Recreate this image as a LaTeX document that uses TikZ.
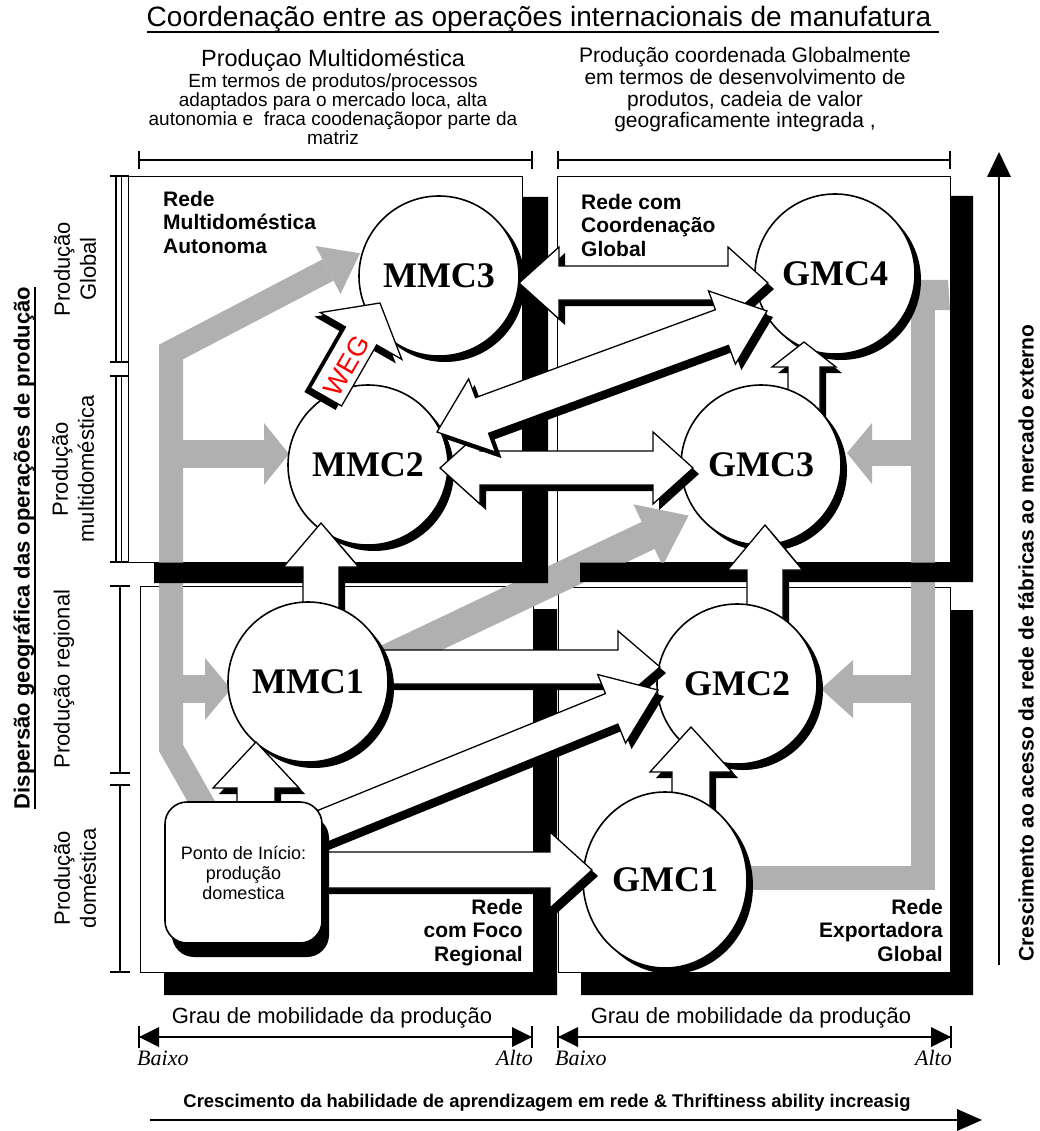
\documentclass[tikz,border=0pt]{standalone}
\usepackage{fontspec}
\setmainfont{Liberation Sans}
\newfontfamily\tnr{Liberation Serif}
\usetikzlibrary{calc,shadows,shapes.geometric}
\definecolor{gband}{HTML}{B0B0B0}
\newcommand{\fsz}[2]{\fontsize{#1}{#2}\selectfont}
\def\BAsx{6}\def\BAsy{-6}
\newcommand{\BAsetup}[2]{%
  \path let \p1=(#1), \p2=(#2),
    \n1={atan2((\y2)-(\y1),(\x2)-(\x1))},
    \n2={veclen((\x2)-(\x1),(\y2)-(\y1))} in
    \pgfextra{%
      \pgfmathsetmacro{\BAangT}{\n1}\xdef\BAang{\BAangT}%
      \pgfmathsetmacro{\BAlenT}{\n2}\xdef\BAlen{\BAlenT}%
      \pgfmathsetmacro{\BAxT}{\x1}\xdef\BAx{\BAxT}%
      \pgfmathsetmacro{\BAyT}{\y1}\xdef\BAy{\BAyT}%
    };%
}
% single block arrow: start, end, shaft half width, head half width, head length
\newcommand{\singlearrow}[5]{%
  \BAsetup{#1}{#2}%
  \pgfmathsetmacro{\BAb}{\BAlen-#5}%
  \begin{scope}[shift={(\BAsx pt,\BAsy pt)}]
    \begin{scope}[shift={(\BAx pt,\BAy pt)},rotate=\BAang]
      \fill[black] (0pt,#3pt) -- (\BAb pt,#3pt) -- (\BAb pt,#4pt) -- (\BAlen pt,0pt) -- (\BAb pt,-#4pt) -- (\BAb pt,-#3pt) -- (0pt,-#3pt) -- cycle;
    \end{scope}
  \end{scope}
  \begin{scope}[shift={(\BAx pt,\BAy pt)},rotate=\BAang]
    \filldraw[blockarrow] (0pt,#3pt) -- (\BAb pt,#3pt) -- (\BAb pt,#4pt) -- (\BAlen pt,0pt) -- (\BAb pt,-#4pt) -- (\BAb pt,-#3pt) -- (0pt,-#3pt) -- cycle;
  \end{scope}
}
% double block arrow
\newcommand{\doublearrow}[5]{%
  \BAsetup{#1}{#2}%
  \pgfmathsetmacro{\BAb}{\BAlen-#5}%
  \begin{scope}[shift={(\BAsx pt,\BAsy pt)}]
    \begin{scope}[shift={(\BAx pt,\BAy pt)},rotate=\BAang]
      \fill[black] (0pt,0pt) -- (#5pt,#4pt) -- (#5pt,#3pt) -- (\BAb pt,#3pt) -- (\BAb pt,#4pt) -- (\BAlen pt,0pt) -- (\BAb pt,-#4pt) -- (\BAb pt,-#3pt) -- (#5pt,-#3pt) -- (#5pt,-#4pt) -- cycle;
    \end{scope}
  \end{scope}
  \begin{scope}[shift={(\BAx pt,\BAy pt)},rotate=\BAang]
    \filldraw[blockarrow] (0pt,0pt) -- (#5pt,#4pt) -- (#5pt,#3pt) -- (\BAb pt,#3pt) -- (\BAb pt,#4pt) -- (\BAlen pt,0pt) -- (\BAb pt,-#4pt) -- (\BAb pt,-#3pt) -- (#5pt,-#3pt) -- (#5pt,-#4pt) -- cycle;
  \end{scope}
}
\begin{document}
\begin{tikzpicture}[x=1pt,y=-1pt,
  quad/.style={draw, fill=white, line width=1.2pt, inner sep=0pt, anchor=north west},
  circ/.style={circle, draw, fill=white, line width=1.6pt, inner sep=0pt, minimum size=160pt,
     font=\tnr\bfseries\fsz{36}{36},
     drop shadow={shadow xshift=6pt, shadow yshift=-6pt, fill=black, opacity=1}},
  ponto/.style={rectangle, rounded corners=22pt, draw, fill=white, line width=1.6pt,
     minimum width=157pt, minimum height=141pt, align=center, inner sep=0pt, font=\fsz{18}{20},
     drop shadow={shadow xshift=7pt, shadow yshift=-14pt, fill=black, opacity=1}},
  blockarrow/.style={fill=white, draw=black, line width=1.3pt, line join=miter},
  rede/.style={font=\bfseries\fsz{21}{23.5}, inner sep=0pt},
  sidelbl/.style={rotate=90, align=center, font=\fsz{22}{26}, inner sep=0pt},
  brk/.style={line width=1.4pt},
  lbrk/.style={line width=2.2pt},
  dbrk/.style={line width=1.1pt},
  axisline/.style={line width=1.6pt},
  lohi/.style={font=\tnr\itshape\fsz{22}{24}, inner sep=0pt},
  grau/.style={font=\fsz{22}{24}, inner sep=0pt}]
\fill[white] (0,0) rectangle (1039,1131);
\useasboundingbox (0,0) rectangle (1039,1131);

% ---------- headers ----------
\node[font=\fsz{28}{30}, inner sep=0pt, anchor=base] (title) at (539,27) {Coordenação entre as operações internacionais de manufatura};
\draw[line width=1.6pt] ([yshift=-5pt]title.base west) -- ([yshift=-5pt,xshift=8pt]title.base east);

\node[font=\fsz{23.5}{25}, inner sep=0pt] (lh1) at (333,60) {Produçao Multidoméstica};
\node[font=\fsz{19}{19}, align=center, inner sep=0pt] (lh2) at (333,109) {Em termos de produtos/processos\\adaptados para o mercado loca, alta\\autonomia e~ fraca coodenaçãopor parte da\\matriz};
\node[font=\fsz{21}{21.7}, align=center, inner sep=0pt] (rh) at (745,90) {Produção coordenada Globalmente\\em termos de desenvolvimento de\\produtos, cadeia de valor\\geograficamente integrada ,};

% top brackets
\coordinate (tb1l) at (139,160); \coordinate (tb1r) at (532,160);
\coordinate (tb2l) at (558,160); \coordinate (tb2r) at (950,160);
\draw[brk] (tb1l) -- (tb1r);
\draw[brk] ($(tb1l)+(0,-9)$) -- ($(tb1l)+(0,9)$);
\draw[brk] ($(tb1r)+(0,-9)$) -- ($(tb1r)+(0,9)$);
\draw[brk] (tb2l) -- (tb2r);
\draw[brk] ($(tb2l)+(0,-9)$) -- ($(tb2l)+(0,9)$);
\draw[brk] ($(tb2r)+(0,-9)$) -- ($(tb2r)+(0,9)$);

% left brackets
\draw[dbrk] (116,176) -- (116,362); \draw[dbrk] (121.5,176) -- (121.5,362);
\draw[brk] (110,176) -- (129,176); \draw[brk] (110,362) -- (129,362);
\draw[dbrk] (116,376) -- (116,562); \draw[dbrk] (121.5,376) -- (121.5,562);
\draw[brk] (110,376) -- (129,376); \draw[brk] (110,562) -- (129,562);
\draw[lbrk] (120,586) -- (120,773);
\draw[brk] (110,586) -- (130,586); \draw[brk] (110,773) -- (130,773);
\draw[lbrk] (120,785) -- (120,972);
\draw[brk] (110,785) -- (130,785); \draw[brk] (110,972) -- (130,972);

\node[sidelbl] (lg) at (75,269) {Produção\\Global};
\node[sidelbl] (lm) at (73,469) {Produção\\multidoméstica};
\node[sidelbl] (lr) at (64,679) {Produção regional};
\node[sidelbl] (ld) at (75,878) {Produção\\doméstica};
\node[rotate=90, font=\bfseries\fsz{22}{24}, inner sep=0pt] (disp) at (24,548) {Dispersão geográfica das operações de produção};
\draw[line width=1.6pt] ([xshift=5pt]disp.base west) -- ([xshift=5pt]disp.base east);

% ---------- quadrant boxes ----------
\node[quad, minimum width=394pt, minimum height=386pt] (TL) at (128,176) {};
\node[quad, minimum width=393pt, minimum height=386pt] (TR) at (557,176) {};
\node[quad, minimum width=393pt, minimum height=386pt] (BL) at (140,586) {};
\node[quad, minimum width=392pt, minimum height=385pt] (BR) at (558,587) {};

% ---------- gray arrows ----------
\draw[gband, line width=24pt, line join=miter] (205,808) -- (171,748) -- (171,352) -- (328,270);
\fill[gband] (315.5,246) -- (360,253.3) -- (340.5,294) -- cycle;
\fill[gband] (171,440) rectangle (265,468);
\fill[gband] (264,423) -- (289,454) -- (264,485) -- cycle;
\fill[gband] (171,675) rectangle (206,703);
\fill[gband] (205,658) -- (231,689) -- (205,720) -- cycle;

\draw[gband, line width=24pt, line join=miter] (740,878) -- (923,878) -- (923,306);
\fill[gband] (896,310) -- (911,280) -- (948,280) -- (950,310) -- cycle;
\fill[gband] (871,440) rectangle (923,466);
\fill[gband] (872,423) -- (847,453) -- (872,484) -- cycle;
\fill[gband] (852,675) rectangle (923,703);
\fill[gband] (853,660) -- (821,689) -- (853,718) -- cycle;

\draw[gband, line width=30pt] (375,665) -- (649,535);
\fill[gband] (662.6,565.7) -- (688.6,515.6) -- (633.4,504.3) -- cycle;

% ---------- quadrant shadows ----------
\fill[black] (522.6,197) -- (548,197) -- (548,583) -- (154,583) -- (154,562.6) -- (522.6,562.6) -- cycle;
\fill[black] (950.6,196) -- (973,196) -- (973,582) -- (580,582) -- (580,562.6) -- (950.6,562.6) -- cycle;
\fill[black] (533.6,609) -- (557,609) -- (557,995) -- (164,995) -- (164,972.6) -- (533.6,972.6) -- cycle;
\fill[black] (950.6,610) -- (973,610) -- (973,995) -- (581,995) -- (581,972.6) -- (950.6,972.6) -- cycle;

% ---------- quadrant labels ----------
\node[rede, align=left, anchor=north west] (rTL) at (163,191) {Rede\\Multidoméstica\\Autonoma};
\node[rede, align=left, anchor=north west] (rTR) at (581,194) {Rede com\\Coordenação\\Global};
\node[rede, align=right, anchor=north east] (rBL) at (523,899) {Rede\\com Foco\\Regional};
\node[rede, align=right, anchor=north east] (rBR) at (943,899) {Rede\\Exportadora\\Global};

% ---------- arrow end coordinates ----------
\coordinate (a1s) at (519,283);  \coordinate (a1e) at (768,283);
\coordinate (a2s) at (440,468);  \coordinate (a2e) at (693,468);
\coordinate (a3s) at (437,432);  \coordinate (a3e) at (767,311);
\coordinate (a4s) at (300,667);  \coordinate (a4e) at (660,667);
\coordinate (a5s) at (306,833);  \coordinate (a5e) at (658,690);
\coordinate (a6s) at (300,870);  \coordinate (a6e) at (592,870);
\coordinate (a7s) at (256,830);  \coordinate (a7e) at (256,742);
\coordinate (a8s) at (321,640);  \coordinate (a8e) at (321,523);
\coordinate (a9s) at (765,640);  \coordinate (a9e) at (765,525);
\coordinate (a10s) at (691,840); \coordinate (a10e) at (691,727);
\coordinate (a11s) at (804,420); \coordinate (a11e) at (804,342);
\coordinate (wegs) at (326,397); \coordinate (wege) at (380,303);

% ---------- circles and block arrows ----------
\node[circ] (GMC4) at (835,274) {GMC4};
\node[circ] (MMC3) at (439,276) {MMC3};
\singlearrow{a11s}{a11e}{16}{32}{25}
\node[circ] (GMC3) at (761,465) {GMC3};
\node[circ] (MMC2) at (368,465) {MMC2};
\def\BAsx{-6}\def\BAsy{-4}
\singlearrow{wegs}{wege}{18}{47}{38}
\def\BAsx{6}\def\BAsy{-6}
\node[rotate=60, text=red, font=\fsz{27}{27}, inner sep=0pt] (weg) at (347,366) {WEG};
\doublearrow{a1s}{a1e}{17}{36}{40}
\doublearrow{a2s}{a2e}{17}{36}{40}
\doublearrow{a3s}{a3e}{19}{39}{48}
\singlearrow{a9s}{a9e}{18}{37.5}{45}
\singlearrow{a8s}{a8e}{18}{37.5}{44}
\node[circ] (GMC2) at (737,684) {GMC2};
\singlearrow{a4s}{a4e}{17}{36}{42}
\singlearrow{a10s}{a10e}{19}{41}{45}
\singlearrow{a5s}{a5e}{16.5}{37}{50}
\node[circ] (MMC1) at (308,682) {MMC1};
\singlearrow{a7s}{a7e}{19}{43}{46}
\node[circ, ellipse, minimum width=164pt, minimum height=176pt] (GMC1) at (665,880) {GMC1};
\singlearrow{a6s}{a6e}{18}{38}{42}
\node[ponto] (ponto) at (243.5,872.5) {Ponto de Início:\\produção\\domestica};

% ---------- bottom axes ----------
\node[grau] (g1) at (332,1018) {Grau de mobilidade da produção};
\node[grau] (g2) at (751,1018) {Grau de mobilidade da produção};
\coordinate (bl1) at (139,1037); \coordinate (br1) at (532,1037);
\coordinate (bl2) at (558,1037); \coordinate (br2) at (951,1037);
\draw[axisline] (bl1) -- (br1);
\draw[axisline] (bl2) -- (br2);
\fill (bl1) -- ++(20,-10) -- ++(0,20) -- cycle;
\fill (br1) -- ++(-20,-10) -- ++(0,20) -- cycle;
\fill (bl2) -- ++(20,-10) -- ++(0,20) -- cycle;
\fill (br2) -- ++(-20,-10) -- ++(0,20) -- cycle;
\draw[lbrk] ($(bl1)+(0,-11)$) -- ($(bl1)+(0,11)$);
\draw[lbrk] ($(br1)+(0,-11)$) -- ($(br1)+(0,11)$);
\draw[lbrk] ($(bl2)+(0,-11)$) -- ($(bl2)+(0,11)$);
\draw[lbrk] ($(br2)+(0,-11)$) -- ($(br2)+(0,11)$);
\node[lohi, anchor=west] (bx1) at (137,1058) {Baixo};
\node[lohi, anchor=east] (al1) at (533,1058) {Alto};
\node[lohi, anchor=west] (bx2) at (555,1058) {Baixo};
\node[lohi, anchor=east] (al2) at (952,1058) {Alto};

\node[font=\bfseries\fsz{18.4}{20}, inner sep=0pt] (cresc) at (547,1103) {Crescimento da habilidade de aprendizagem em rede \& Thriftiness ability increasig};
\coordinate (ba1) at (150,1120); \coordinate (ba2) at (982,1120);
\draw[axisline] (ba1) -- ($(ba2)+(-20,0)$);
\fill (ba2) -- ++(-25,-11) -- ++(0,22) -- cycle;

% ---------- right axis ----------
\coordinate (ra1) at (999,965); \coordinate (ra2) at (999,152);
\draw[line width=1.5pt] (ra1) -- ($(ra2)+(0,20)$);
\fill (ra2) -- ++(-12,25) -- ++(24,0) -- cycle;
\node[rotate=90, font=\bfseries\fsz{21}{22}, inner sep=0pt] (rtext) at (1026,643) {Crescimento ao acesso da rede de fábricas ao mercado externo};
\end{tikzpicture}
\end{document}
